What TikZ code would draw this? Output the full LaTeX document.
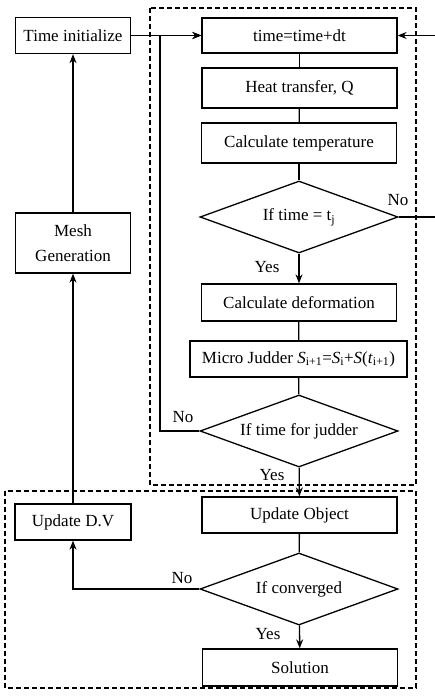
\documentclass[tikz,border=0pt]{standalone}
\usepackage{fontspec}
\setmainfont{Liberation Serif}
\usetikzlibrary{shapes.geometric,arrows.meta}
\begin{document}
\begin{tikzpicture}[x=1pt,y=-1pt,
  txt/.style={font=\fontsize{17}{20}\selectfont},
  box/.style={txt, draw, line width=1.3pt, inner sep=0pt, minimum width=195pt, minimum height=37pt},
  dia/.style={txt, draw, diamond, line width=1.3pt, inner sep=0pt, minimum width=198pt, minimum height=72pt, aspect=2.75},
  conn/.style={line width=1.3pt},
  arr/.style={conn, -{Stealth[length=9pt,width=7pt]}},
  region/.style={draw, dash pattern=on 5pt off 3pt, line width=1.2pt}]
\useasboundingbox (0,0) rectangle (435,698);

% regions
\draw[region] (150,8) rectangle (416,485);
\draw[region] (5,491) rectangle (416,688);

% left column
\node[box, minimum width=115pt, minimum height=36pt] (ti) at (73,35.5) {Time initialize};
\node[box, minimum width=115pt, minimum height=60pt, align=center, font=\fontsize{17}{25}\selectfont] (mesh) at (73,243) {Mesh\\Generation};
\node[box, minimum width=116pt, minimum height=36pt] (udv) at (73,522) {Update D.V};

% right column
\node[box, minimum height=35pt] (tt) at (299.5,35.5) {time=time+dt};
\node[box, minimum height=40pt] (ht) at (299.5,88) {Heat transfer, Q};
\node[box, minimum height=40pt] (ct) at (299,143) {Calculate temperature};
\node[dia] (d1) at (299,217) {If time = t\textsubscript{j}};
\node[box] (cd) at (299,302.5) {Calculate deformation};
\node[box, minimum width=217pt, minimum height=36pt] (mj) at (298.5,359) {Micro Judder \textit{S}\textsubscript{i+1}=\textit{S}\textsubscript{i}+\textit{S}(\textit{t}\textsubscript{i+1})};
\node[dia] (d2) at (299,431) {If time for judder};
\node[box, minimum height=36pt] (uo) at (299.5,515) {Update Object};
\node[dia] (d3) at (299,589) {If converged};
\node[box] (sol) at (300,667.5) {Solution};

% free ends
\coordinate (r1) at (435,35.5);
\coordinate (r2) at (435,217);
\coordinate (lp) at (160,431);

% connectors
\draw[arr] (mesh) -- (ti);
\draw[arr] (udv) -- (mesh);
\draw[arr] (ti) -- (tt);
\draw[arr] (r1) -- (tt.east);
\draw[conn] (d1.east) -- (r2);
\draw[conn] (tt) -- (ht);
\draw[conn] (ht) -- (ct);
\draw[conn] (ct) -- (d1);
\draw[arr] (d1) -- (cd);
\draw[conn] (cd) -- (mj);
\draw[conn] (mj) -- (d2);
\draw[arr] (d2.west) -- (lp) |- (tt.west);
\draw[arr] (d2) -- (uo);
\draw[conn] (uo) -- (d3);
\draw[arr] (d3) -- (sol);
\draw[arr] (d3.west) -| (udv.south);

% labels
\node[txt] (no1) at (398,200) {No};
\node[txt] (yes1) at (267,267) {Yes};
\node[txt] (no2) at (183,417) {No};
\node[txt] (yes2) at (272,475) {Yes};
\node[txt] (no3) at (182,578) {No};
\node[txt] (yes3) at (268,634) {Yes};
\end{tikzpicture}
\end{document}
